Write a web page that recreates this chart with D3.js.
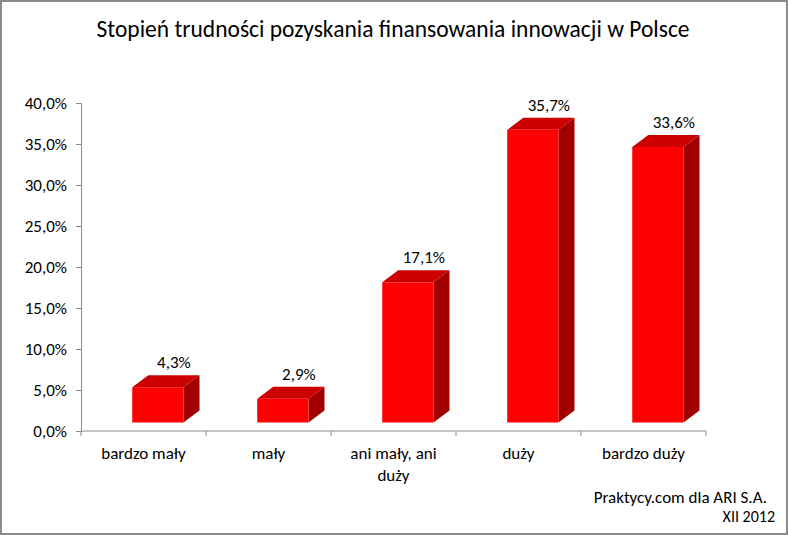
<!DOCTYPE html>
<html><head><meta charset="utf-8">
<script src="https://cdn.jsdelivr.net/npm/d3@7"></script>
<style>
body{margin:0;background:#fff;}
text{font-family:Carlito,Calibri,Lato,"Open Sans",sans-serif;fill:#000;}
</style></head>
<body><svg id="c" width="788" height="535"></svg>
<script>
const categories = ["bardzo mały","mały","ani mały, ani duży","duży","bardzo duży"];
const categoryLines = [["bardzo mały"],["mały"],["ani mały, ani","duży"],["duży"],["bardzo duży"]];
const values = [4.3, 2.9, 17.1, 35.7, 33.6];
const valueLabels = ["4,3%","2,9%","17,1%","35,7%","33,6%"];
const yTicks = [0,5,10,15,20,25,30,35,40];
const yTickLabels = ["0,0%","5,0%","10,0%","15,0%","20,0%","25,0%","30,0%","35,0%","40,0%"];
const title = "Stopień trudności pozyskania finansowania innowacji w Polsce";
const source = ["Praktycy.com dla ARI S.A.","XII 2012"];

const svg = d3.select("#c");
svg.append("rect").attr("x",1).attr("y",1).attr("width",786).attr("height",533)
  .attr("fill","#fff").attr("stroke","#8a8a8a").attr("stroke-width",2);

const x = d3.scaleBand().domain(categories).range([81,706]);
const y = d3.scaleLinear().domain([0,40]).range([431,103]);
const dx = 16, dy = 12, lift = 8.5;

svg.append("text").attr("x",393).attr("y",37).attr("text-anchor","middle")
  .style("font-size","23.5px").text(title);

// y axis
const yAxis = svg.append("g").attr("transform","translate(81,0)")
  .call(d3.axisLeft(y).tickValues(yTicks).tickSize(5).tickFormat((d,i)=>yTickLabels[i]));
yAxis.select(".domain").attr("stroke","#8a8a8a");
yAxis.selectAll(".tick line").attr("stroke","#8a8a8a");
yAxis.selectAll(".tick text").style("font-size","17px").attr("x",-14).attr("fill","#000")
  .style("font-family","Carlito,Calibri,Lato,sans-serif");

// x axis
const xg = svg.append("g");
xg.append("line").attr("x1",x.range()[0]).attr("x2",x.range()[1]).attr("y1",y(0)).attr("y2",y(0))
  .attr("stroke","#8a8a8a");
const bounds = categories.map(c=>x(c)).concat([x.range()[1]]);
xg.selectAll("line.t").data(bounds).join("line").attr("class","t")
  .attr("x1",d=>d).attr("x2",d=>d).attr("y1",y(0)).attr("y2",y(0)+5).attr("stroke","#8a8a8a");
categories.forEach((c,i)=>{
  const t = xg.append("text").attr("text-anchor","middle").style("font-size","17px");
  categoryLines[i].forEach((ln,j)=>{
    t.append("tspan").attr("x",x(c)+x.bandwidth()/2).attr("y",459+j*22).text(ln);
  });
});

// bars
const bw = x.bandwidth()*0.41;
const bars = svg.append("g");
categories.forEach((c,i)=>{
  const x0 = x(c)+x.bandwidth()*0.41, x1 = x0+bw;
  const yt = y(values[i])-lift, yb = y(0)-lift;
  bars.append("path").attr("d",`M${x1},${yt}L${x1+dx},${yt-dy}L${x1+dx},${yb-dy}L${x1},${yb}Z`)
    .attr("fill","#a00000");
  bars.append("path").attr("d",`M${x0},${yt}L${x0+dx},${yt-dy}L${x1+dx},${yt-dy}L${x1},${yt}Z`)
    .attr("fill","#cc0000");
  bars.append("rect").attr("x",x0).attr("y",yt).attr("width",bw).attr("height",yb-yt)
    .attr("fill","#ff0000");
  svg.append("text").attr("x",(x0+x1)/2+dx).attr("y",yt-dy-7).attr("text-anchor","middle")
    .style("font-size","17px").text(valueLabels[i]);
});

svg.append("text").attr("x",767).attr("y",503).attr("text-anchor","end").style("font-size","17px").text(source[0]);
svg.append("text").attr("x",775).attr("y",522).attr("text-anchor","end").style("font-size","16px").text(source[1]);
</script></body></html>
